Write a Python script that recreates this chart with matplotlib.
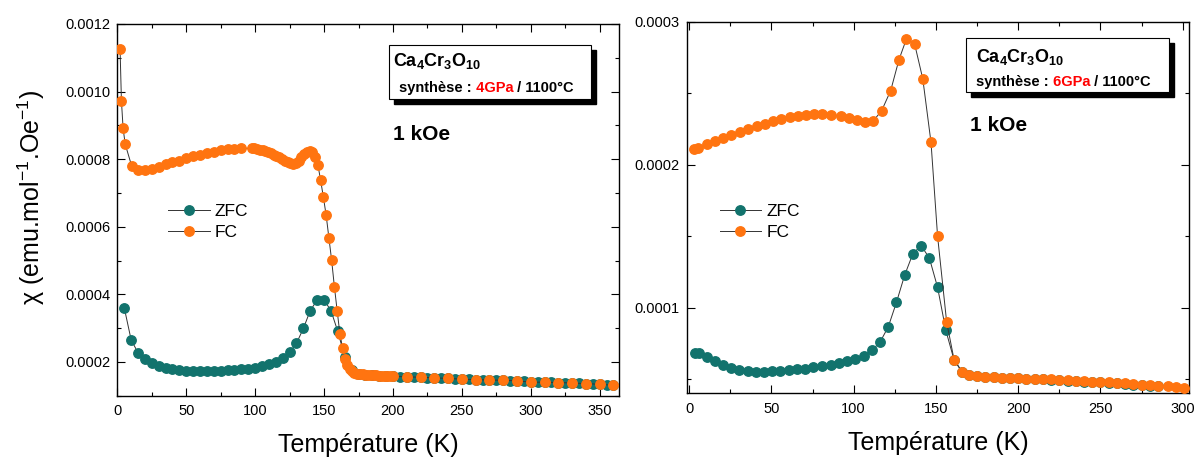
import matplotlib
matplotlib.use("Agg")
import matplotlib.pyplot as plt
from matplotlib.lines import Line2D
from matplotlib.patches import Rectangle
from matplotlib.ticker import MultipleLocator, FormatStrFormatter

plt.rcParams['font.family'] = ['Liberation Sans', 'DejaVu Sans']
plt.rcParams['mathtext.fontset'] = 'custom'
plt.rcParams['mathtext.rm'] = 'Liberation Sans'
plt.rcParams['mathtext.it'] = 'Liberation Sans:italic'
plt.rcParams['mathtext.bf'] = 'Liberation Sans:bold'

# ---------------- data: left panel (4 GPa) ----------------
T_zfc_4 = [5, 10, 15, 20, 25, 30, 35, 40, 45, 50, 55, 60, 65, 70, 75, 80, 85, 90, 95,
           100, 105, 110, 115, 120, 125, 130, 135, 140, 145, 150, 155, 160, 165, 170,
           175, 180, 185, 190, 195, 200, 205, 210, 215, 220, 225, 230, 235, 240, 245,
           250, 255, 260, 265, 270, 275, 280, 285, 290, 295, 300, 305, 310, 315, 320,
           325, 330, 335, 340, 345, 350, 355, 360]
chi_zfc_4 = [3.61e-4, 2.66e-4, 2.27e-4, 2.10e-4, 1.97e-4, 1.88e-4, 1.82e-4, 1.78e-4,
             1.75e-4, 1.735e-4, 1.73e-4, 1.725e-4, 1.725e-4, 1.73e-4, 1.74e-4, 1.75e-4,
             1.765e-4, 1.78e-4, 1.80e-4, 1.83e-4, 1.87e-4, 1.93e-4, 2.01e-4, 2.13e-4,
             2.29e-4, 2.55e-4, 2.99e-4, 3.52e-4, 3.83e-4, 3.83e-4, 3.52e-4, 2.90e-4,
             2.15e-4, 1.75e-4, 1.64e-4, 1.61e-4, 1.60e-4, 1.59e-4, 1.58e-4, 1.57e-4,
             1.565e-4, 1.56e-4, 1.552e-4, 1.545e-4, 1.538e-4, 1.53e-4, 1.52e-4, 1.51e-4,
             1.50e-4, 1.49e-4, 1.482e-4, 1.475e-4, 1.47e-4, 1.465e-4, 1.46e-4, 1.455e-4,
             1.448e-4, 1.44e-4, 1.43e-4, 1.40e-4, 1.41e-4, 1.40e-4, 1.395e-4, 1.39e-4,
             1.383e-4, 1.375e-4, 1.368e-4, 1.36e-4, 1.35e-4, 1.335e-4, 1.322e-4, 1.31e-4]

T_fc_4 = [2, 3, 4.2, 5.7, 10.4, 15.3, 20.1, 25, 30, 35, 40, 45, 50, 55, 60, 65, 70, 75,
          80, 85, 90, 97.5, 99.5, 101.5, 103.5, 105.5, 107.5, 109.5, 111.5, 113.5, 115.5,
          117.5, 119.5, 121.5, 123.5, 125.5, 127.5, 129.5, 131.5, 133.5, 135.5, 137.5,
          139.5, 141.5, 143.5, 145.5, 147.5, 149.5, 151.5, 153.5, 155.5, 157.5, 159.5,
          161.5, 163.5, 165.5, 167, 168.5, 170, 172, 174, 176, 178, 180, 182, 184, 186,
          188, 190, 192, 194, 196, 198, 200, 210, 220, 230, 240, 250, 260, 270, 280,
          290, 300, 310, 320, 330, 340, 350, 360]
chi_fc_4 = [1.126e-3, 9.72e-4, 8.92e-4, 8.45e-4, 7.80e-4, 7.68e-4, 7.68e-4, 7.72e-4,
            7.78e-4, 7.85e-4, 7.91e-4, 7.96e-4, 8.02e-4, 8.08e-4, 8.13e-4, 8.18e-4,
            8.22e-4, 8.26e-4, 8.29e-4, 8.31e-4, 8.32e-4, 8.32e-4, 8.32e-4, 8.30e-4,
            8.28e-4, 8.26e-4, 8.23e-4, 8.20e-4, 8.17e-4, 8.13e-4, 8.09e-4, 8.05e-4,
            8.01e-4, 7.96e-4, 7.92e-4, 7.89e-4, 7.87e-4, 7.89e-4, 7.96e-4, 8.05e-4,
            8.15e-4, 8.22e-4, 8.25e-4, 8.20e-4, 8.06e-4, 7.84e-4, 7.38e-4, 6.88e-4,
            6.35e-4, 5.68e-4, 5.01e-4, 4.23e-4, 3.52e-4, 2.83e-4, 2.40e-4, 2.09e-4,
            1.90e-4, 1.79e-4, 1.72e-4, 1.68e-4, 1.655e-4, 1.64e-4, 1.63e-4, 1.62e-4,
            1.615e-4, 1.61e-4, 1.605e-4, 1.60e-4, 1.595e-4, 1.59e-4, 1.585e-4, 1.58e-4,
            1.575e-4, 1.57e-4, 1.56e-4, 1.545e-4, 1.53e-4, 1.51e-4, 1.49e-4, 1.475e-4,
            1.465e-4, 1.455e-4, 1.44e-4, 1.40e-4, 1.40e-4, 1.39e-4, 1.375e-4, 1.36e-4,
            1.335e-4, 1.31e-4]

# ---------------- data: right panel (6 GPa) ----------------
T_zfc_6 = [3.5, 6, 11, 15.5, 20.5, 25.5, 30.5, 35.5, 40.5, 45.5, 50.5, 55.5, 60.5, 65.5,
           70.5, 75.5, 81, 86, 91, 96, 101, 106, 111, 116, 121, 126, 131, 136, 141, 146,
           151, 156, 161, 166, 170, 175, 180, 185, 190, 195, 200, 205, 210, 215, 220,
           225, 230, 235, 240, 245, 250, 255, 260, 265, 270, 275, 280, 285]
chi_zfc_6 = [6.81e-5, 6.81e-5, 6.55e-5, 6.25e-5, 5.97e-5, 5.76e-5, 5.64e-5, 5.57e-5,
             5.52e-5, 5.52e-5, 5.55e-5, 5.59e-5, 5.62e-5, 5.69e-5, 5.73e-5, 5.83e-5,
             5.90e-5, 5.99e-5, 6.11e-5, 6.27e-5, 6.43e-5, 6.62e-5, 7.00e-5, 7.58e-5,
             8.65e-5, 1.037e-4, 1.228e-4, 1.378e-4, 1.434e-4, 1.347e-4, 1.142e-4,
             8.41e-5, 6.34e-5, 5.48e-5, 5.25e-5, 5.18e-5, 5.13e-5, 5.11e-5, 5.08e-5,
             5.06e-5, 5.04e-5, 5.01e-5, 4.99e-5, 4.97e-5, 4.94e-5, 4.92e-5, 4.89e-5,
             4.87e-5, 4.82e-5, 4.80e-5, 4.78e-5, 4.73e-5, 4.69e-5, 4.64e-5, 4.59e-5,
             4.55e-5, 4.52e-5, 4.48e-5]

T_fc_6 = [3, 5.5, 11, 15.5, 20.5, 25.5, 31, 36, 41, 46, 51, 56, 61, 66, 71, 76, 81, 86,
          92, 97, 102, 107, 112, 117, 122.5, 127.5, 132, 137, 142, 147, 151, 156.5, 161,
          166, 170, 175, 180, 185, 190, 195, 200, 205, 210, 215, 220, 225, 230, 235,
          240, 245, 250, 255, 260, 265, 270, 275, 280, 285, 291, 296, 301]
chi_fc_6 = [2.110e-4, 2.115e-4, 2.143e-4, 2.166e-4, 2.187e-4, 2.210e-4, 2.232e-4,
            2.253e-4, 2.270e-4, 2.288e-4, 2.307e-4, 2.321e-4, 2.333e-4, 2.342e-4,
            2.349e-4, 2.354e-4, 2.354e-4, 2.351e-4, 2.342e-4, 2.330e-4, 2.316e-4,
            2.302e-4, 2.309e-4, 2.379e-4, 2.520e-4, 2.735e-4, 2.880e-4, 2.848e-4,
            2.602e-4, 2.157e-4, 1.499e-4, 9.00e-5, 6.36e-5, 5.48e-5, 5.29e-5, 5.20e-5,
            5.15e-5, 5.13e-5, 5.10e-5, 5.08e-5, 5.06e-5, 5.03e-5, 5.01e-5, 4.99e-5,
            4.97e-5, 4.94e-5, 4.92e-5, 4.89e-5, 4.87e-5, 4.82e-5, 4.80e-5, 4.78e-5,
            4.73e-5, 4.69e-5, 4.64e-5, 4.59e-5, 4.55e-5, 4.52e-5, 4.48e-5, 4.43e-5,
            4.38e-5]

labels = ['ZFC', 'FC']
pressures = ['4GPa', '6GPa']
compound = r'$\mathbf{Ca_4Cr_3O_{10}}$'
field_text = '1 kOe'
xlabel = 'Température (K)'
ylabel = 'χ (emu.mol$^{-1}$.Oe$^{-1}$)'

TEAL = '#12736D'
ORANGE = '#FF7410'

W, H = 1197, 458
fig = plt.figure(figsize=(W / 100, H / 100), dpi=100)

def px_axes(x0, x1, ytop, ybot):
    return [x0 / W, (H - ybot) / H, (x1 - x0) / W, (ybot - ytop) / H]

axL = fig.add_axes(px_axes(117.3, 619, 24, 395.7))
axR = fig.add_axes(px_axes(686.7, 1189.3, 22, 393.3))

ms = 6.8
for ax, (tz, cz, tf, cf) in [(axL, (T_zfc_4, chi_zfc_4, T_fc_4, chi_fc_4)),
                             (axR, (T_zfc_6, chi_zfc_6, T_fc_6, chi_fc_6))]:
    ax.plot(tz, cz, '-', color='#333333', lw=0.7, marker='o', ms=ms,
            mfc=TEAL, mec=TEAL, zorder=2)
    ax.plot(tf, cf, '-', color='#333333', lw=0.7, marker='o', ms=ms,
            mfc=ORANGE, mec=ORANGE, zorder=3)
    for s in ax.spines.values():
        s.set_linewidth(1.0)
    ax.tick_params(which='both', direction='in', top=True, right=True,
                   labelsize=10.5, width=0.8)
    ax.tick_params(which='major', length=5.5, pad=6)
    ax.tick_params(which='minor', length=3)
    ax.tick_params(axis='y', which='major', pad=5)
    ax.xaxis.set_major_locator(MultipleLocator(50))
    ax.xaxis.set_minor_locator(MultipleLocator(25))
    ax.yaxis.set_major_formatter(FormatStrFormatter('%.4f'))
    ax.set_xlabel(xlabel, fontsize=18, labelpad=11)

axL.set_xlim(0, 364)
axL.set_ylim(0.0001, 0.0012)
axL.yaxis.set_major_locator(MultipleLocator(0.0002))
axL.yaxis.set_minor_locator(MultipleLocator(0.0001))
axL.set_ylabel(ylabel, fontsize=18)
axL.yaxis.set_label_coords(-0.14, 0.533)

axR.set_xlim(-1.5, 304)
axR.set_ylim(0.00004, 0.0003)
axR.yaxis.set_major_locator(MultipleLocator(0.0001))
axR.yaxis.set_minor_locator(MultipleLocator(0.00005))

# legends
for ax, anchor in [(axL, (0.101, 0.4677)), (axR, (0.0653, 0.4613))]:
    handles = [Line2D([], [], color='#333333', lw=0.7, marker='o', ms=ms,
                      mfc=c, mec=c) for c in (TEAL, ORANGE)]
    ax.legend(handles, labels, loc='center left', bbox_to_anchor=anchor,
              frameon=False, fontsize=12.5, numpoints=1, handlelength=2.4,
              handletextpad=0.3, labelspacing=0.35, borderpad=0, borderaxespad=0)

# annotation boxes
def add_box(ax, x0, x1, y0, y1, axw, axh, tx, ty_comp, sx, ty_syn, pressure,
            kx, ky):
    dx, dy = 5 / axw, -5 / axh
    ax.add_patch(Rectangle((x0 + dx, y0 + dy), x1 - x0, y1 - y0,
                           transform=ax.transAxes, facecolor='black',
                           edgecolor='black', clip_on=False, zorder=5))
    ax.add_patch(Rectangle((x0, y0), x1 - x0, y1 - y0, transform=ax.transAxes,
                           facecolor='white', edgecolor='black', lw=0.8,
                           clip_on=False, zorder=6))
    ax.text(tx, ty_comp, compound, transform=ax.transAxes, fontsize=13,
            va='baseline', ha='left', zorder=7)
    t1 = ax.text(sx, ty_syn, 'synthèse :', transform=ax.transAxes,
                 fontsize=10.5, fontweight='bold', va='center', ha='left',
                 zorder=7)
    t2 = ax.annotate(' ' + pressure, xy=(1, 0), xycoords=t1, va='bottom',
                     ha='left', fontsize=10.5, fontweight='bold',
                     color='#FF0000', zorder=7)
    ax.annotate(' / 1100°C', xy=(1, 0), xycoords=t2, va='bottom', ha='left',
                fontsize=10.5, fontweight='bold', zorder=7)
    ax.text(kx, ky, field_text, transform=ax.transAxes, fontsize=15,
            fontweight='bold', va='center', ha='left', zorder=7)

add_box(axL, 0.5416, 0.944, 0.798, 0.9435, 501.7, 371.7,
        0.5495, 0.887, 0.5614, 0.8278, pressures[0], 0.5495, 0.7014)
add_box(axR, 0.5557, 0.9596, 0.8115, 0.957, 502.6, 371.3,
        0.5756, 0.892, 0.5756, 0.838, pressures[1], 0.5637, 0.72)

fig.savefig('out.png', dpi=100)
